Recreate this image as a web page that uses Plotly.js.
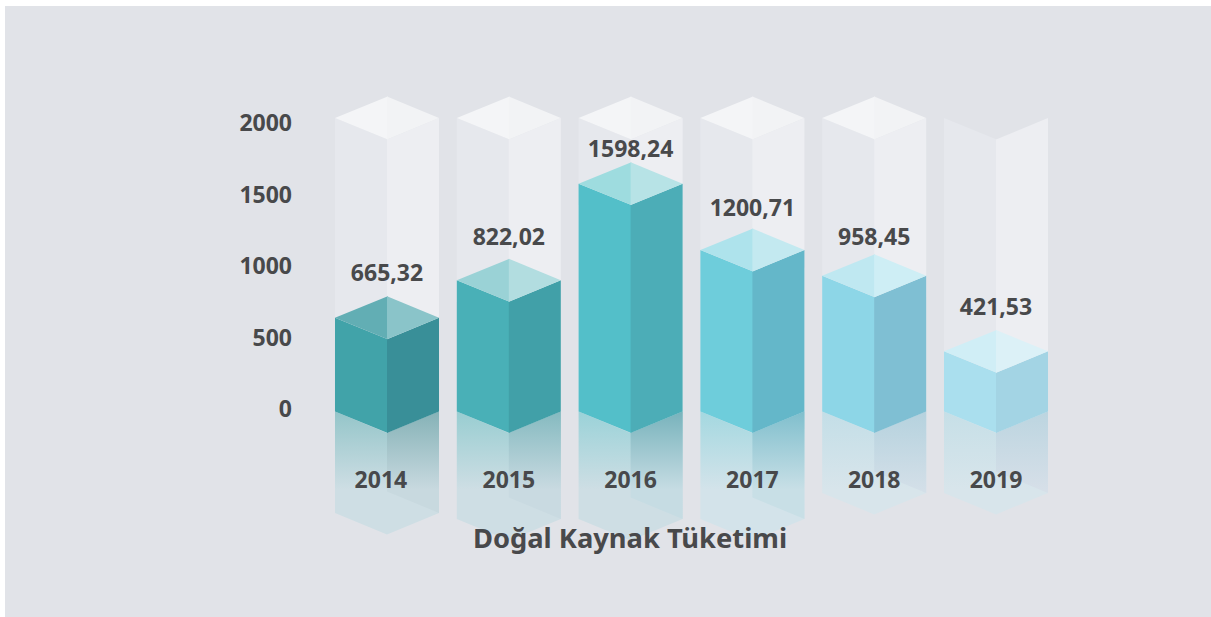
<!DOCTYPE html>
<html><head><meta charset="utf-8">
<script src="https://cdn.plot.ly/plotly-3.0.1.min.js"></script>
<style>html,body{margin:0;padding:0;background:#fff;overflow:hidden}#chart{position:absolute;left:5px;top:6px;width:1206px;height:611px}</style>
</head><body><div id="chart"></div>
<script>
// Data
const years = ['2014','2015','2016','2017','2018','2019'];
const valueLabels = ['665,32','822,02','1598,24','1200,71','958,45','421,53'];
// The printed values and the drawn column heights differ in the reference, so both are kept.
const drawnHeights = [631, 893, 1569, 1105, 925, 396];
const labelHeights = [926, 1183, 1797, 1385, 1183, 693];
const reflectionDepths = [-734, -776, -776, -776, -594, -594];
const yTicks = [0, 500, 1000, 1500, 2000];

// Styling
const leftColors  = ['#41a3a9','#49b0b7','#53bfc9','#6ecddb','#8dd6e7','#aadfee'];
const rightColors = ['#398f98','#41a0a8','#4cadb7','#64b7c9','#7fbfd3','#a3d4e4'];
const capLeft     = ['#62aeb4','#9ad2d6','#9edcdf','#aee3ec','#bfe8f1','#d0eef6'];
const capRight    = ['#8ac4c9','#b2dde0','#b7e3e6','#c3e9f0','#ceeef5','#dcf1f7'];
const reflTop     = ['#94c5c9','#98cdd1','#9ad2d8','#a4d8e0','#c3dee7','#c6dfe7'];
const reflInnerTop= ['#85b2b7','#85bac0','#78b3bc','#80bfcd','#b5d2de','#bcd5e0'];
const reflEnd     = ['#cedee4','#cedee4','#cedee4','#d3e3ea','#d8e5eb','#d8e5eb'];
const reflInnerEnd= ['#c8d9df','#c9dae1','#c6dce3','#c8dfe6','#d3dfe8','#d6dfe8'];
const ghostLeft='#e6e8ed', ghostRight='#edeef2', ghostCapL='#f4f5f7', ghostCapR='#f2f3f5';
const hasGhostCap = [true,true,true,true,true,false];
const ink='#48494b', font='"Noto Sans", sans-serif';

const HW=0.427, BASE=-24.5, ISO=150, GHOST=2028, SEAM=0.006;
const traces=[];
function poly(xs,ys,color,grad){
  const t={type:'scatter',mode:'lines',x:xs.concat(xs[0]),y:ys.concat(ys[0]),fill:'toself',
    line:{width:0},hoverinfo:'skip',showlegend:false};
  if(grad) t.fillgradient=grad; else t.fillcolor=color;
  traces.push(t);
}
function vgrad(top,end){
  return {type:'vertical',start:BASE,stop:-570,colorscale:[[0,top],[1,end]]};
}
years.forEach((yr,i)=>{
  const L=i-HW,R=i+HW,M=i,h=drawnHeights[i],d=reflectionDepths[i];
  // empty glass column
  poly([L,M+SEAM,M+SEAM,L],[BASE,BASE-ISO,GHOST-ISO,GHOST],ghostLeft);
  poly([M,R,R,M],[BASE-ISO,BASE,GHOST,GHOST-ISO],ghostRight);
  if(hasGhostCap[i]){
    poly([L,M+SEAM,M+SEAM],[GHOST,GHOST+ISO,GHOST-ISO],ghostCapL);
    poly([M,R,M],[GHOST+ISO,GHOST,GHOST-ISO],ghostCapR);
  }
  // reflection: outer chevron, then the darker inner face
  poly([L,L,M,R,R,M],[BASE,d,d-ISO,d,BASE,BASE-ISO],null,vgrad(reflTop[i],reflEnd[i]));
  poly([M,R,R,M],[BASE-ISO,BASE,d,d+ISO],null,vgrad(reflInnerTop[i],reflInnerEnd[i]));
  // column
  poly([L,M+SEAM,M+SEAM,L],[BASE,BASE-ISO,h-ISO,h],leftColors[i]);
  poly([M,R,R,M],[BASE-ISO,BASE,h,h-ISO],rightColors[i]);
  poly([L,M+SEAM,M+SEAM],[h,h+ISO,h-ISO],capLeft[i]);
  poly([M,R,M],[h+ISO,h,h-ISO],capRight[i]);
});
traces.push({type:'scatter',mode:'text',x:years.map((_,i)=>i),y:labelHeights,text:valueLabels,
  textposition:'middle center',textfont:{family:font,size:23,color:ink,weight:700},
  hoverinfo:'skip',showlegend:false,cliponaxis:false});

const layout={
  width:1206,height:611,
  margin:{l:288,r:113,t:54,b:57},
  paper_bgcolor:'#e1e3e8',plot_bgcolor:'rgba(0,0,0,0)',showlegend:false,
  title:{text:'Doğal Kaynak Tüketimi',x:625/1206,xanchor:'center',y:1-532/611,yanchor:'middle',
    font:{family:font,size:27.3,color:ink,weight:700}},
  xaxis:{range:[(293-387)/121.8,(1098-387)/121.8],showgrid:false,zeroline:false,showline:false,ticks:'',
    tickmode:'array',tickvals:years.map((_,i)=>i===0?-0.05:i),ticktext:years,
    anchor:'free',position:0.192,tickangle:0,
    tickfont:{family:font,size:23,color:ink,weight:700}},
  yaxis:{range:[-1062.94,2433.57],showgrid:false,zeroline:false,showline:false,ticks:'',
    tickmode:'array',tickvals:yTicks,ticktext:yTicks.map(String),ticklabelshift:1,
    tickfont:{family:font,size:23,color:ink,weight:700}}
};
Plotly.newPlot('chart',traces,layout,{displayModeBar:false,staticPlot:true});
</script></body></html>
